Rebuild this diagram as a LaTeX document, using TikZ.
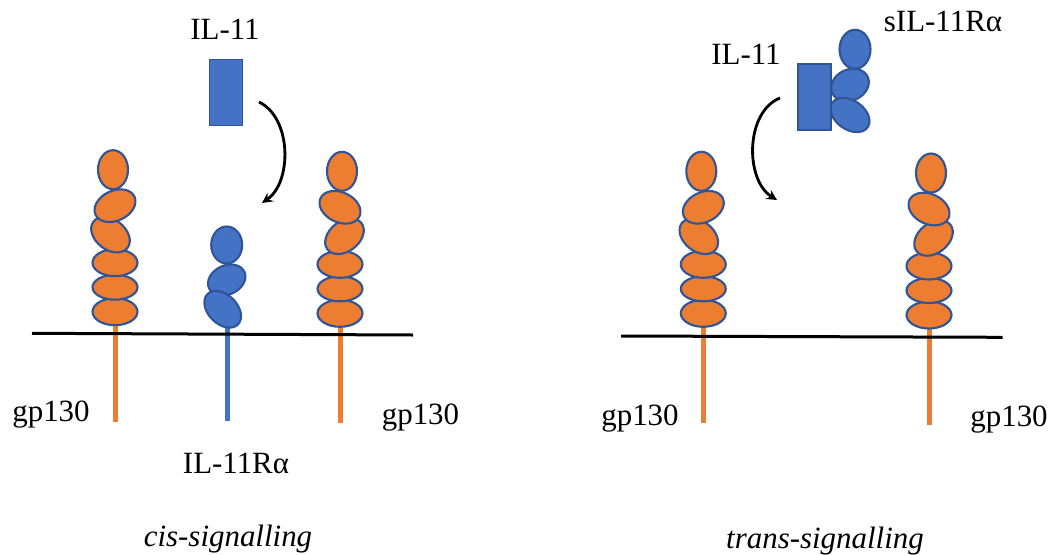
\documentclass[tikz,border=0pt]{standalone}
\usepackage{fontspec}
\setmainfont{Liberation Serif}
\usetikzlibrary{shapes.geometric}

\definecolor{gporange}{HTML}{ED7D31}
\definecolor{ilblue}{HTML}{4472C4}
\definecolor{edgeblue}{HTML}{2F5597}

\tikzset{
    dom/.style={ellipse, draw=edgeblue, line width=1.2pt, inner sep=0pt},
    gpdom/.style={dom, fill=gporange},
    ildom/.style={dom, fill=ilblue},
    sz/.style 2 args={minimum width=#1*0.02cm, minimum height=#2*0.02cm},
    ilbox/.style={rectangle, fill=ilblue, draw=edgeblue, line width=1.1pt, inner sep=0pt, sz={33}{66}},
    gpstem/.style={gporange, line width=0.1cm},
    ilstem/.style={ilblue, line width=0.1cm},
    membrane/.style={black, line width=0.06cm},
    bindarrow/.style={->, >=stealth, line width=1.6pt},
    lbl/.style={font=\fontsize{17.6}{21}\selectfont, inner sep=0pt, anchor=base},
    gpstack/.pic={
        \draw [gpstem] (0,0) -- (0,110);
        \node [gpdom, sz={45}{27}] (-d6) at (0,0) {};
        \node [gpdom, sz={45}{25}] (-d5) at (0,-24.5) {};
        \node [gpdom, sz={45}{27}] (-d4) at (0,-49) {};
        \node [gpdom, sz={43}{30}, rotate={#1*(-38)}] (-d3) at ({#1*(-4.5)},-77) {};
        \node [gpdom, sz={43}{30}, rotate={#1*25}] (-d2) at (0,-106) {};
        \node [gpdom, sz={30}{39}] (-d1) at ({#1*(-2)},-142) {};
    }
}

\begin{document}
\begin{tikzpicture}[x=0.02cm, y=-0.02cm]
        \useasboundingbox (0,0) rectangle (1053,554);

        % cis side
        \pic (gpA) at (115,311.7) {gpstack=1};
        \pic (gpB) at (340,313.3) {gpstack=-1};
        \draw [ilstem] (227.7,310) -- (227.7,421);
        \node [ildom, sz={31}{37}] (ra1) at (226.7,245) {};
        \node [ildom, sz={39}{29}, rotate=25] (ra2) at (226.7,280) {};
        \node [ildom, sz={43}{29}, rotate=-45] (ra3) at (222.7,309.3) {};
        \draw [membrane] (32,333.3) -- (413,335);

        \node [ilbox] (ilA) at (226,92.5) {};
        \coordinate (bindA1) at (259,102);
        \coordinate (bindA2) at (262,203);
        \draw [bindarrow] (bindA1) .. controls (292,118) and (292,182) .. (bindA2);

        \node [lbl] (ilAtxt) at (225,40) {IL-11};
        \node [lbl] (gpAtxt) at (51,421.7) {gp130};
        \node [lbl] (gpBtxt) at (420.5,424.3) {gp130};
        \node [lbl] (raTxt) at (236,473.3) {IL-11Rα};
        \node [lbl, font=\fontsize{17.6}{21}\selectfont\itshape] (cisTxt) at (228,546) {cis-signalling};

        % trans side
        \pic (gpC) at (703.3,313.3) {gpstack=1};
        \pic (gpD) at (929,315) {gpstack=-1};
        \draw [membrane] (621,336) -- (1002.7,337.3);

        \node [ildom, sz={31}{39}] (sr1) at (855,49.3) {};
        \node [ildom, sz={39}{31}, rotate=25] (sr2) at (850,85) {};
        \node [ildom, sz={43}{29}, rotate=-35] (sr3) at (850,115) {};
        \node [ilbox] (ilB) at (814.7,96.7) {};
        \coordinate (bindB1) at (780,98);
        \coordinate (bindB2) at (777,200);
        \draw [bindarrow] (bindB1) .. controls (745,112) and (745,180) .. (bindB2);

        \node [lbl] (ilBtxt) at (746,65) {IL-11};
        \node [lbl] (srTxt) at (943,31.7) {sIL-11Rα};
        \node [lbl] (gpCtxt) at (640,425) {gp130};
        \node [lbl] (gpDtxt) at (1009,426) {gp130};
        \node [lbl, font=\fontsize{17.6}{21}\selectfont\itshape] (transTxt) at (825,548.3) {trans-signalling};
    \end{tikzpicture}
\end{document}
